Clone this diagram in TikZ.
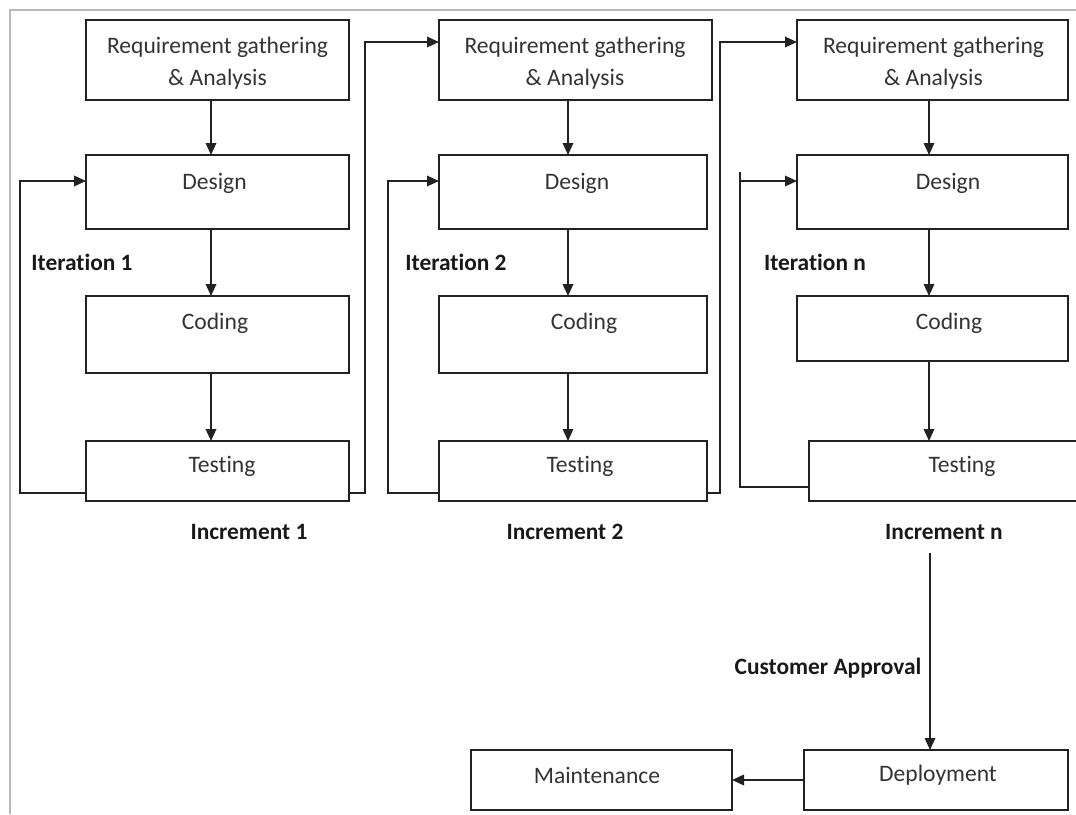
\documentclass[tikz,border=0pt]{standalone}
\usepackage{fontspec}
\setmainfont{Carlito}[Ligatures={NoCommon}]
\usetikzlibrary{arrows.meta}
\definecolor{ink}{HTML}{222222}
\definecolor{txtc}{HTML}{333333}
\begin{document}
\begin{tikzpicture}[x=1pt,y=-1pt,
  box/.style={draw=ink, rectangle, anchor=north west, inner sep=0pt, outer sep=0pt, line width=1.8pt},
  conn/.style={draw=ink, line width=1.8pt},
  arr/.style={conn, -{Triangle[length=12pt,width=10.5pt]}},
  txt/.style={text=txtc, font=\fontsize{23.6}{32}\selectfont, inner sep=0pt, align=center},
  lbl/.style={text=black!90, font=\fontsize{23.4}{32}\selectfont\bfseries, inner sep=0pt}]
\useasboundingbox (0,0) rectangle (1076,814);
% frame
\coordinate (fa) at (10,814);
\coordinate (fb) at (10,10);
\coordinate (fc) at (1076,10);
\draw[gray!55, line width=1.2pt] (fa) -- (fb) -- (fc);

% column 1
\node[box, minimum width=263pt, minimum height=80pt] (r1) at (86,20) {};
\node[box, minimum width=263pt, minimum height=74pt] (d1) at (86,155) {};
\node[box, minimum width=263pt, minimum height=77pt] (c1) at (86,296) {};
\node[box, minimum width=263pt, minimum height=60pt] (t1) at (86,441) {};
\node[txt] (r1t) at (217.5,63) {Requirement gathering\\ \& Analysis};
\node[txt] (d1t) at (214.5,183) {Design};
\node[txt] (c1t) at (215,323) {Coding};
\node[txt] (t1t) at (222,466) {Testing};

% column 2
\node[box, minimum width=273pt, minimum height=80pt] (r2) at (439,20) {};
\node[box, minimum width=268pt, minimum height=74pt] (d2) at (439,155) {};
\node[box, minimum width=268pt, minimum height=77pt] (c2) at (439,296) {};
\node[box, minimum width=268pt, minimum height=60pt] (t2) at (439,441) {};
\node[txt] (r2t) at (575,63) {Requirement gathering\\ \& Analysis};
\node[txt] (d2t) at (577,183) {Design};
\node[txt] (c2t) at (584,323) {Coding};
\node[txt] (t2t) at (580,466) {Testing};

% column 3
\node[box, minimum width=271pt, minimum height=80pt] (r3) at (797,20) {};
\node[box, minimum width=271pt, minimum height=74pt] (d3) at (797,155) {};
\node[box, minimum width=271pt, minimum height=65pt] (c3) at (797,296) {};
\node[box, minimum width=290pt, minimum height=60pt] (t3) at (809,441) {};
\node[txt] (r3t) at (933.5,63) {Requirement gathering\\ \& Analysis};
\node[txt] (d3t) at (948,183) {Design};
\node[txt] (c3t) at (949,323) {Coding};
\node[txt] (t3t) at (962,466) {Testing};

% bottom
\node[box, minimum width=264pt, minimum height=60pt] (dep) at (804,750) {};
\node[box, minimum width=261pt, minimum height=60pt] (mnt) at (471,750) {};
\node[txt] (dept) at (938,775) {Deployment};
\node[txt] (mntt) at (597,775) {Maintenance};

% labels
\node[lbl] (it1) at (82,262) {Iteration 1};
\node[lbl] (it2) at (456,262) {Iteration 2};
\node[lbl] (itn) at (815,262) {Iteration n};
\node[lbl] (in1) at (249,532) {Increment 1};
\node[lbl] (in2) at (565,532) {Increment 2};
\node[lbl] (inn) at (944,532) {Increment n};
\node[lbl] (cap) at (828,668) {Customer Approval};

% vertical arrows
\coordinate (a1) at (211,0);
\coordinate (a2) at (568,0);
\coordinate (a3) at (929,0);
\draw[arr] (r1.south -| a1) -- (d1.north -| a1);
\draw[arr] (d1.south -| a1) -- (c1.north -| a1);
\draw[arr] (c1.south -| a1) -- (t1.north -| a1);
\draw[arr] (r2.south -| a2) -- (d2.north -| a2);
\draw[arr] (d2.south -| a2) -- (c2.north -| a2);
\draw[arr] (c2.south -| a2) -- (t2.north -| a2);
\draw[arr] (r3.south -| a3) -- (d3.north -| a3);
\draw[arr] (d3.south -| a3) -- (c3.north -| a3);
\draw[arr] (c3.south -| a3) -- (t3.north -| a3);

% iteration loops
\coordinate (l1b) at (20,493);
\coordinate (l1t) at (20,181);
\draw[arr] (t1.west |- l1b) -- (l1b) -- (l1t) -- (d1.west |- l1t);
\coordinate (l2b) at (388,493);
\coordinate (l2t) at (388,181);
\draw[arr] (t2.west |- l2b) -- (l2b) -- (l2t) -- (d2.west |- l2t);
\coordinate (l3b) at (740,487);
\coordinate (l3e) at (740,172);
\coordinate (l3t) at (740,181);
\draw[conn] (t3.west |- l3b) -- (l3b) -- (l3e);
\draw[arr] (l3t) -- (d3.west |- l3t);

% increment links
\coordinate (f1b) at (365,493);
\coordinate (f1t) at (365,42);
\draw[arr] (t1.east |- f1b) -- (f1b) -- (f1t) -- (r2.west |- f1t);
\coordinate (f2b) at (720,493);
\coordinate (f2t) at (720,42);
\draw[arr] (t2.east |- f2b) -- (f2b) -- (f2t) -- (r3.west |- f2t);

% approval and deployment
\coordinate (ca) at (930,553);
\draw[arr] (ca) -- (dep.north -| ca);
\draw[arr] (dep.west) -- (mnt.east);
\end{tikzpicture}
\end{document}
